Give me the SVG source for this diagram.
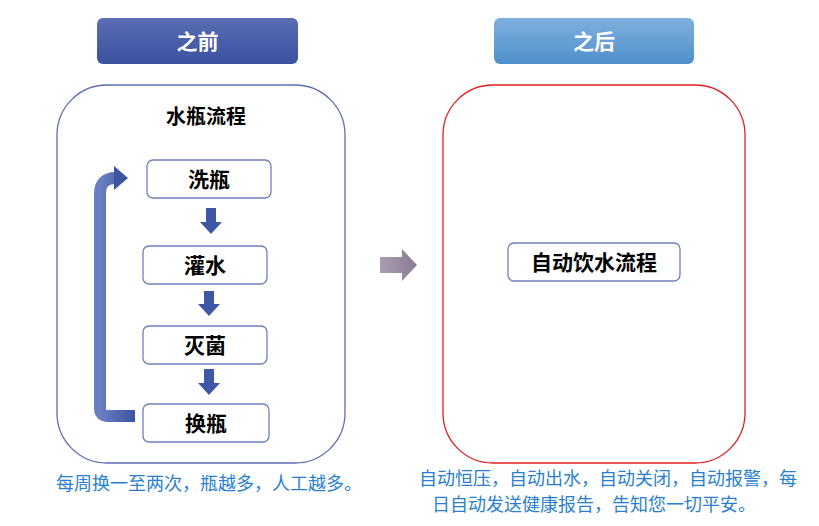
<svg xmlns="http://www.w3.org/2000/svg" width="819" height="526" viewBox="0 0 819 526">
<defs>
<linearGradient id="gL" x1="0" y1="0" x2="0" y2="1"><stop offset="0" stop-color="#5a6db5"/><stop offset="1" stop-color="#3a52a0"/></linearGradient>
<linearGradient id="gR" x1="0" y1="0" x2="0" y2="1"><stop offset="0" stop-color="#7fb0de"/><stop offset="1" stop-color="#4f8fcc"/></linearGradient>
<linearGradient id="gA" x1="0" y1="0" x2="1" y2="0"><stop offset="0" stop-color="#6a7fc0"/><stop offset="1" stop-color="#3b55a3"/></linearGradient>
<linearGradient id="gM" x1="0" y1="0" x2="1" y2="0"><stop offset="0" stop-color="#a89cb0"/><stop offset="1" stop-color="#8a7d93"/></linearGradient>
</defs>
<style>
text{font-family:"Noto Sans CJK SC","Noto Sans",sans-serif}
.box{fill:#fff;stroke:#6f80bf;stroke-width:1.3}
.bt{font-size:21px;font-weight:bold;fill:#000;text-anchor:middle}
.ht{font-size:21px;font-weight:bold;fill:#fff;text-anchor:middle}
.cap{font-size:18px;fill:#2a7fd0;text-anchor:middle}
.da{fill:#3f58a6}
</style>
<rect width="819" height="526" fill="#fff"/>
<g id="hdr-before"><rect x="97" y="18" width="201" height="46" rx="6" fill="url(#gL)"/><text class="ht" x="197.5" y="49">之前</text></g>
<g id="hdr-after"><rect x="494" y="18" width="200" height="46" rx="6" fill="url(#gR)"/><text class="ht" x="594" y="49">之后</text></g>
<g id="panel-before"><rect x="57" y="85" width="288" height="378" rx="50" fill="#fff" stroke="#5b6fb5" stroke-width="1.3"/><text x="206" y="124" font-size="20" font-weight="bold" text-anchor="middle">水瓶流程</text></g>
<g id="panel-after"><rect x="443" y="85" width="302" height="378" rx="50" fill="#fff" stroke="#e02020" stroke-width="1.3"/></g>
<g id="n1"><rect class="box" x="147" y="160" width="124" height="38" rx="6"/><text class="bt" x="209" y="187">洗瓶</text></g>
<g id="n2"><rect class="box" x="143" y="246" width="124" height="38" rx="6"/><text class="bt" x="205" y="273">灌水</text></g>
<g id="n3"><rect class="box" x="143" y="326" width="124" height="38" rx="6"/><text class="bt" x="205" y="353">灭菌</text></g>
<g id="n4"><rect class="box" x="143" y="404" width="126" height="38" rx="6"/><text class="bt" x="206" y="431">换瓶</text></g>
<g id="n5"><rect class="box" x="508" y="243" width="172" height="38" rx="6"/><text class="bt" x="594" y="270" font-size="19">自动饮水流程</text></g>
<g id="connectors">
<polygon class="da" points="206,208 216,208 216,222 222,222 211,234 200,222 206,222"/>
<polygon class="da" points="204,291 214,291 214,304 220,304 209,316 198,304 204,304"/>
<polygon class="da" points="204,369 214,369 214,383 220,383 209,395 198,383 204,383"/>
<path d="M135,416 H108 Q100,416 100,408 V194 Q100,178 116,178" fill="none" stroke="url(#gA)" stroke-width="12"/>
<polygon points="114,166 128,178 114,190" fill="#3b55a3"/>
<polygon points="380,257 402,257 402,249 417,265 402,281 402,273 380,273" fill="url(#gM)"/>
</g>
<text class="cap" x="209" y="490">每周换一至两次，瓶越多，人工越多。</text>
<text class="cap" x="608" y="485">自动恒压，自动出水，自动关闭，自动报警，每</text>
<text class="cap" x="594" y="511">日自动发送健康报告，告知您一切平安。</text>
</svg>
